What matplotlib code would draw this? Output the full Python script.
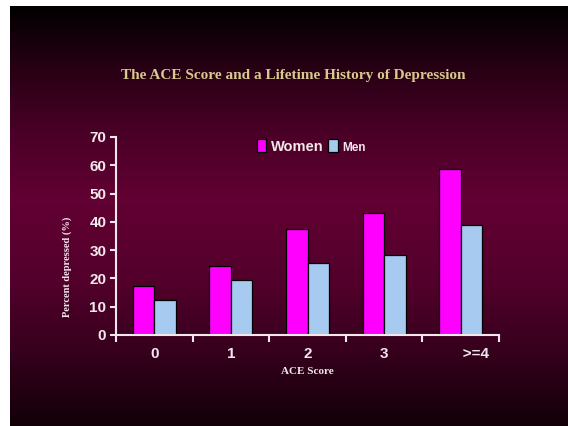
import numpy as np
import matplotlib
matplotlib.use("Agg")
import matplotlib.pyplot as plt
from matplotlib.colors import LinearSegmentedColormap

# data
categories = ["0", "1", "2", "3", "       >=4"]
women = [17.3, 24.5, 37.3, 43.1, 58.8]
men = [12.4, 19.6, 25.4, 28.3, 39.0]
y_ticks = [0, 10, 20, 30, 40, 50, 60, 70]

SANS = ["Liberation Sans Narrow", "Liberation Sans", "DejaVu Sans"]
SERIF = ["Liberation Serif", "DejaVu Serif"]
TXT = "#f2e8ec"

fig = plt.figure(figsize=(5.68, 4.26), dpi=100, facecolor="white")

# slide background gradient (dark top -> maroon -> dark bottom)
bg = fig.add_axes([10 / 568, 0, 558 / 568, 420 / 426])
bg.set_axis_off()
cmap = LinearSegmentedColormap.from_list("slide", [
    (0.00, "#000000"), (0.13, "#230012"), (0.30, "#4a0027"),
    (0.46, "#620033"), (0.65, "#54002c"), (0.82, "#37001d"),
    (1.00, "#120008")])
grad = np.linspace(0, 1, 256).reshape(-1, 1)
bg.imshow(grad, aspect="auto", cmap=cmap, extent=[0, 1, 0, 1], origin="upper")

ax = fig.add_axes([116 / 568, 91 / 426, 383 / 568, 198 / 426])
ax.patch.set_alpha(0)

x = np.arange(len(categories))
w = 0.28
ax.bar(x - w / 2, women, w, color="#ff00ff", edgecolor="black", linewidth=0.9, label="Women")
ax.bar(x + w / 2, men, w, color="#a6caf0", edgecolor="black", linewidth=0.9, label="Men")

ax.set_xlim(-0.5, len(categories) - 0.5)
ax.set_ylim(0, 70)
ax.set_yticks(y_ticks)
ax.set_xticks(x)
ax.set_xticklabels(categories)
ax.set_xticks(np.arange(-0.5, len(categories)), minor=True)
ax.tick_params(axis="x", which="major", length=0, pad=9, colors=TXT)
ax.tick_params(axis="x", which="minor", length=5, width=1.5, color=TXT, direction="out")
ax.tick_params(axis="y", length=4, width=1.5, color=TXT, labelcolor=TXT, pad=3)
for lbl in ax.get_xticklabels() + ax.get_yticklabels():
    lbl.set_family(SANS)
    lbl.set_fontweight("bold")
    lbl.set_fontsize(11)

for s in ["top", "right"]:
    ax.spines[s].set_visible(False)
for s in ["left", "bottom"]:
    ax.spines[s].set_color(TXT)
    ax.spines[s].set_linewidth(1.5)

ax.set_ylabel("Percent depressed (%)", family=SERIF, fontweight="bold",
              fontsize=7.5, color=TXT)
ax.yaxis.set_label_coords(-0.115, 0.343)
ax.set_xlabel("ACE Score", family=SERIF, fontweight="bold", fontsize=8,
              color=TXT, labelpad=4)

leg = ax.legend(loc="upper center", bbox_to_anchor=(0.51, 1.055), ncol=2, frameon=False,
                handlelength=0.65, handleheight=0.95, handletextpad=0.3, columnspacing=0.35,
                prop={"family": SANS, "weight": "bold", "size": 10.5})
texts = leg.get_texts()
for t in texts:
    t.set_color(TXT)
texts[1].set_fontsize(8.5)

fig.text(293 / 568, 1 - 76 / 426, "The ACE Score and a Lifetime History of Depression",
         family=SERIF, fontsize=11, fontweight="bold", color="#d8c98e",
         ha="center", va="center")

fig.savefig("out.png", dpi=100, facecolor=fig.get_facecolor())
